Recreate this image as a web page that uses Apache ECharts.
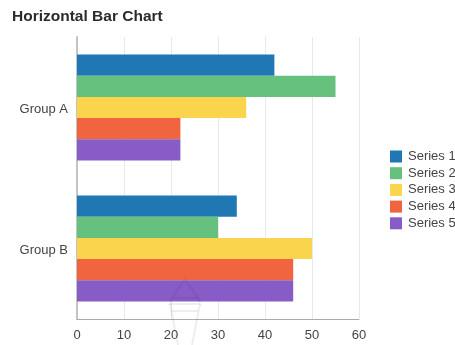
<!DOCTYPE html>
<html>
<head>
<meta charset="utf-8">
<style>html,body{margin:0;padding:0;background:#fff}#chart{width:455px;height:345px}</style>
<script src="https://cdn.jsdelivr.net/npm/echarts@6/dist/echarts.min.js"></script>
</head>
<body>
<div id="chart"></div>
<script>
const categories = ['Group A', 'Group B'];
const seriesNames = ['Series 1', 'Series 2', 'Series 3', 'Series 4', 'Series 5'];
const series1 = [42, 34];
const series2 = [55, 30];
const series3 = [36, 50];
const series4 = [22, 46];
const series5 = [22, 46];
const colors = ['#1f78b4', '#66c17f', '#fbd44e', '#f06540', '#875cc7'];
const xTicks = { min: 0, max: 60, interval: 10 };

const values = [series1, series2, series3, series4, series5];

// Faint torch emblem laid over the lower part of the plot
const emblemStyle = { stroke: '#2a2a3a', lineWidth: 2, fill: 'none', opacity: 0.08 };
const emblemLine = (points) => ({
  type: 'polyline', silent: true, z: 200, zlevel: 1,
  shape: { points }, style: emblemStyle
});

const chart = echarts.init(document.getElementById('chart'), null, { renderer: 'canvas' });
chart.setOption({
  animation: false,
  color: colors,
  textStyle: { fontFamily: '"Liberation Sans", Arial, sans-serif' },
  title: {
    text: 'Horizontal Bar Chart',
    left: 12, top: 9, padding: 0,
    textStyle: { fontSize: 15.5, fontWeight: 'bold', color: '#2b2b2b', fontFamily: '"Liberation Sans", Arial, sans-serif' }
  },
  legend: {
    orient: 'vertical',
    left: 390, top: 150, padding: 0,
    itemWidth: 12, itemHeight: 12, itemGap: 3.7,
    icon: 'rect',
    textStyle: { fontSize: 13, color: '#444', padding: [0, 0, 0, 1] },
    data: seriesNames
  },
  grid: { left: 77, right: 96, top: 37, bottom: 26, containLabel: false },
  xAxis: {
    type: 'value',
    min: xTicks.min, max: xTicks.max, interval: xTicks.interval,
    axisLine: { show: true, lineStyle: { color: '#aaaaaa', width: 1 } },
    axisTick: { show: false },
    axisLabel: { color: '#444', fontSize: 13, margin: 10 },
    splitLine: { show: true, lineStyle: { color: '#e6e9ef', width: 1 } }
  },
  yAxis: {
    type: 'category',
    inverse: true,
    data: categories,
    axisLine: { show: true, lineStyle: { color: '#c4c4c4', width: 2 } },
    axisTick: { show: false },
    axisLabel: { color: '#444', fontSize: 13, margin: 9, verticalAlign: 'top', lineHeight: 3 }
  },
  series: seriesNames.map((name, i) => ({
    name,
    type: 'bar',
    data: values[i],
    barWidth: 21.2,
    barGap: 0,
    barCategoryGap: '25%',
    z: 3
  })),
  graphic: [
    emblemLine([[172, 298], [185, 279], [198, 298], [172, 298]]),
    emblemLine([[172, 298], [170, 304], [200, 304], [198, 298]]),
    emblemLine([[172, 311], [198, 311]]),
    emblemLine([[170, 304], [178, 345]]),
    emblemLine([[200, 304], [192, 345]])
  ]
});
</script>
</body>
</html>
